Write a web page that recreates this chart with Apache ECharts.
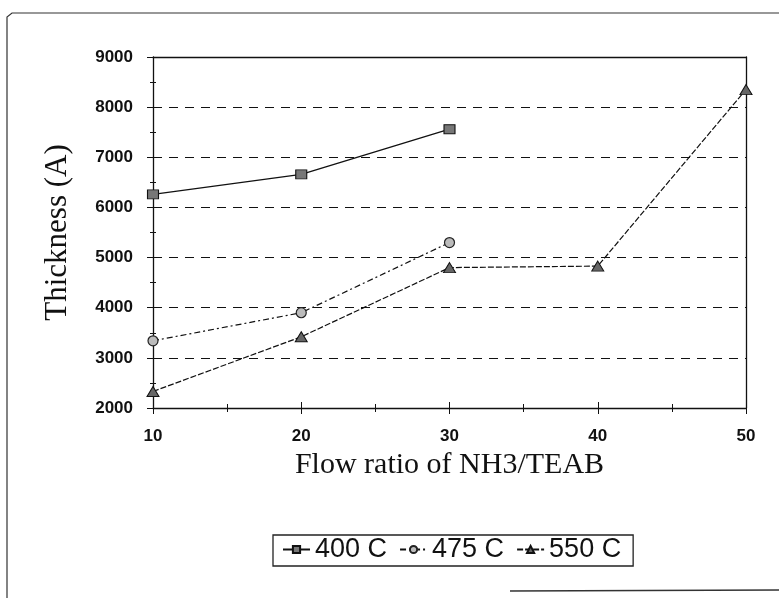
<!DOCTYPE html>
<html>
<head>
<meta charset="utf-8">
<script src="https://cdn.jsdelivr.net/npm/echarts@6/dist/echarts.min.js"></script>
<style>
  html, body { margin: 0; padding: 0; background: #fff; }
  #chart { width: 779px; height: 598px; }
</style>
</head>
<body>
<div id="chart"></div>
<script>
// Flow ratio values on the x axis
const flowRatios = [10, 20, 30, 40, 50];
// Film thickness (Å) for each deposition temperature
const thick400 = [6260, 6660, 7560, null, null];
const thick475 = [3340, 3900, 5300, null, null];
const thick550 = [2330, 3420, 4800, 4830, 8350];
const seriesNames = ['400 C', '475 C', '550 C'];

const pairs = (vals) => flowRatios.map((x, i) => [x, vals[i]]).filter(p => p[1] !== null);

const chart = echarts.init(document.getElementById('chart'), null, { renderer: 'canvas' });

const ink = '#111';
const sans = 'Liberation Sans, Arial, sans-serif';
const serif = 'Liberation Serif, Times New Roman, serif';
const tickFont = { fontFamily: sans, fontWeight: 'bold', fontSize: 17, color: ink };

// Hidden twin axes that draw the inner half of each tick mark
const innerX = (position) => ({
  type: 'value', min: 10, max: 50, interval: 10, position: position,
  axisLine: { show: position === 'top', onZero: false, lineStyle: { color: ink, width: 1.3 } },
  axisTick: { show: position === 'bottom', inside: true, length: 6, lineStyle: { color: ink } },
  minorTick: { show: position === 'bottom', splitNumber: 2, length: 4, lineStyle: { color: ink } },
  axisLabel: { show: false }, splitLine: { show: false }
});
const innerY = (position) => ({
  type: 'value', min: 2000, max: 9000, interval: 1000, position: position,
  axisLine: { show: position === 'right', onZero: false, lineStyle: { color: ink, width: 1.3 } },
  axisTick: { show: position === 'left', inside: true, length: 5, lineStyle: { color: ink } },
  minorTick: { show: position === 'left', splitNumber: 2, length: 3, lineStyle: { color: ink } },
  axisLabel: { show: false }, splitLine: { show: false }
});

chart.setOption({
  backgroundColor: '#fff',
  animation: false,
  grid: { left: 153, right: 33, top: 57, bottom: 190 },
  xAxis: [{
    type: 'value', min: 10, max: 50, interval: 10,
    name: 'Flow ratio of NH3/TEAB', nameLocation: 'middle', nameGap: 41,
    nameTextStyle: { fontFamily: serif, fontSize: 30, color: ink },
    axisLine: { lineStyle: { color: ink, width: 1.3 } },
    axisTick: { show: true, length: 6, lineStyle: { color: ink } },
    minorTick: { show: true, splitNumber: 2, length: 4, lineStyle: { color: ink } },
    axisLabel: Object.assign({ margin: 20 }, tickFont),
    splitLine: { show: false }
  }, innerX('bottom'), innerX('top')],
  yAxis: [{
    type: 'value', min: 2000, max: 9000, interval: 1000,
    name: 'Thickness (A)', nameLocation: 'middle', nameGap: 80,
    nameTextStyle: { fontFamily: serif, fontSize: 31, color: ink },
    axisLine: { show: true, lineStyle: { color: ink, width: 1.3 } },
    axisTick: { show: true, length: 6, lineStyle: { color: ink } },
    minorTick: { show: true, splitNumber: 2, length: 3, lineStyle: { color: ink } },
    axisLabel: Object.assign({ margin: 20, padding: [0, 0, 8, 0], formatter: (v) => String(v) }, tickFont),
    splitLine: { show: true, lineStyle: { color: ink, type: [9, 7], width: 1.2 } }
  }, innerY('left'), innerY('right')],
  legend: {
    data: seriesNames,
    left: 273, top: 535,
    itemGap: 12, itemWidth: 27, itemHeight: 9,
    padding: [1, 12, 3, 9],
    borderColor: '#222', borderWidth: 1.3,
    textStyle: { fontFamily: sans, fontSize: 27, color: ink }
  },
  series: [{
    name: seriesNames[0], type: 'line', data: pairs(thick400),
    symbol: 'rect', symbolSize: [11, 9],
    itemStyle: { color: '#777', borderColor: ink, borderWidth: 1 },
    lineStyle: { color: ink, width: 1.3, type: 'solid' }
  }, {
    name: seriesNames[1], type: 'line', data: pairs(thick475),
    symbol: 'circle', symbolSize: 10,
    itemStyle: { color: '#bbb', borderColor: '#222', borderWidth: 1.2 },
    lineStyle: { color: ink, width: 1.2, type: [6, 3, 2, 3] }
  }, {
    name: seriesNames[2], type: 'line', data: pairs(thick550),
    symbol: 'triangle', symbolSize: [12, 10],
    itemStyle: { color: '#666', borderColor: ink, borderWidth: 1 },
    lineStyle: { color: ink, width: 1.2, type: [6, 2] }
  }],
  graphic: [{
    type: 'polyline',
    shape: { points: [[779, 13], [12, 13], [7, 17], [7, 598]] },
    style: { stroke: '#333', lineWidth: 1.2, fill: null }
  }, {
    type: 'line',
    shape: { x1: 510, y1: 591, x2: 779, y2: 590 },
    style: { stroke: '#333', lineWidth: 1.5 }
  }]
});
</script>
</body>
</html>
